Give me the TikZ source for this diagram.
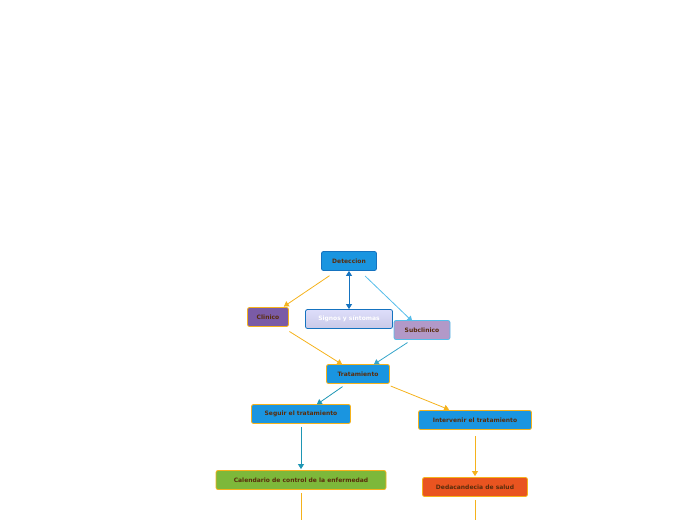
\documentclass[tikz,border=0pt]{standalone}
\usepackage{fontspec}
\setmainfont{DejaVu Sans}
\usetikzlibrary{arrows.meta}
\definecolor{txt}{HTML}{5A2D0C}
\definecolor{bl}{HTML}{1A95E0}
\definecolor{bld}{HTML}{1573C0}
\definecolor{org}{HTML}{F5B21C}
\definecolor{lb}{HTML}{56BDEA}
\definecolor{teal}{HTML}{1E96B4}
\definecolor{pur}{HTML}{7A5BA6}
\definecolor{lpur}{HTML}{B299C8}
\definecolor{grn}{HTML}{7DB83A}
\definecolor{red}{HTML}{E95420}
\tikzset{
 box/.style={rounded corners=2pt, minimum height=19pt, inner sep=0pt, font=\fontsize{6}{7}\selectfont\bfseries, text=txt, line width=0.8pt},
 con/.style={line width=0.8pt, -{Triangle[width=6pt,length=5pt]}, shorten >=1pt, shorten <=3pt}
}
\begin{document}
\begin{tikzpicture}[x=1pt,y=-1pt]
\useasboundingbox (0,0) rectangle (696,520);
\node[box, fill=bl, draw=bld, minimum width=55pt] (det) at (349,261) {Deteccion};
\node[box, fill=pur, draw=org, minimum width=41pt] (cli) at (268,317) {Clinico};
\node[box, top color=gray!25!blue!15, bottom color=gray!60!blue!30, draw=bld, text=white, minimum width=87pt] (sig) at (349,319) {Signos y síntomas};
\node[box, fill=lpur, draw=lb, minimum width=56pt] (sub) at (422,330) {Subclinico};
\node[box, fill=bl, draw=org, minimum width=63pt] (tra) at (358,374) {Tratamiento};
\node[box, fill=bl, draw=org, minimum width=99pt] (seg) at (301,414) {Seguir el tratamiento};
\node[box, fill=bl, draw=org, minimum width=113pt] (int) at (475,420) {Intervenir el tratamiento};
\node[box, fill=grn, draw=org, minimum width=170pt] (cal) at (301,480) {Calendario de control de la enfermedad};
\node[box, fill=red, draw=org, minimum width=105pt] (ded) at (475,487) {Dedacandecia de salud};
\coordinate (e1) at (301,520);
\coordinate (e2) at (475,520);
\draw[con, org] (332,274) -- (cli.north -| 283,0);
\draw[line width=0.8pt, bld, {Triangle[width=6pt,length=5pt]}-{Triangle[width=6pt,length=5pt]}] (det.south) -- (sig.north);
\draw[con, lb] (det.south east) ++(-14,3) -- (413,322);
\draw[con, org] (cli.south east) ++(-2,3) -- (343,365);
\draw[con, teal!60!lb] (sub.south) ++(-12,1) -- (373,365);
\draw[con, teal] (tra.south) ++(-13,1) -- (316,405);
\draw[con, org] (tra.south east) ++(-2,1) -- (450,410);
\draw[con, teal] (seg.south) -- (cal.north);
\draw[con, org] (int.south) ++(0,3) -- (ded.north);
\draw[org, line width=0.8pt, shorten <=3pt] (cal.south) -- (e1);
\draw[org, line width=0.8pt, shorten <=3pt] (ded.south) -- (e2);
\end{tikzpicture}
\end{document}
